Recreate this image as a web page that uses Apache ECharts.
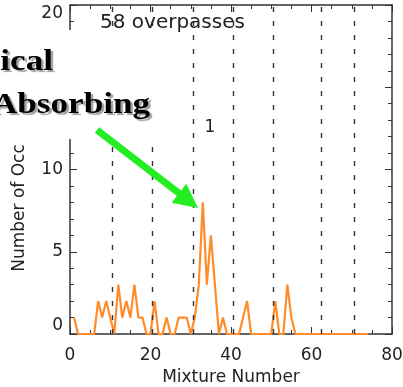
<!DOCTYPE html>
<html>
<head>
<meta charset="utf-8">
<script src="https://cdn.jsdelivr.net/npm/echarts@6/dist/echarts.min.js"></script>
<style>
  html, body { margin: 0; padding: 0; background: #fff; }
  #chart { width: 403px; height: 387px; }
</style>
</head>
<body>
<div id="chart"></div>
<script>
// mixture numbers and number of occurrences
const mixture = [1, 2, 3, 4, 5, 6, 7, 8, 9, 10, 11, 12, 13, 14, 15, 16, 17, 18, 19, 20,
  21, 22, 23, 24, 25, 26, 27, 28, 29, 30, 31, 32, 33, 34, 35, 36, 37, 38, 39, 40,
  41, 42, 43, 44, 45, 46, 47, 48, 49, 50, 51, 52, 53, 54, 55, 56, 57, 58, 59, 60,
  61, 62, 63, 64, 65, 66, 67, 68, 69, 70, 71, 72, 73, 74];
const occurrences = [1, 0, 0, 0, 0, 0, 2, 1, 2, 1, 0, 3, 1, 2, 1, 3, 1, 1, 0, 0,
  2, 0, 0, 1, 0, 0, 1, 1, 1, 0, 1, 3, 8, 3, 6, 3, 0, 1, 0, 0,
  0, 0, 1, 2, 0, 0, 0, 0, 0, 0, 2, 0, 0, 3, 1, 0, 0, 0, 0, 0,
  0, 0, 0, 0, 0, 0, 0, 0, 0, 0, 0, 0, 0, 0];
// dashed group boundaries
const groupBounds = [10.5, 20.5, 30.5, 40.5, 50.5, 62.5, 70.5];
const xTicks = [0, 20, 40, 60, 80];
const yTicks = [0, 5, 10, 15, 20];

const chart = echarts.init(document.getElementById("chart"));
const axisColor = "#333";
const font = "DejaVu Sans, Verdana, sans-serif";

// green arrow polygon (annotation)
function arrowPoints(tail, tip, headLen, headHalf, shaftHalf) {
  const dx = tip[0] - tail[0], dy = tip[1] - tail[1];
  const len = Math.sqrt(dx * dx + dy * dy);
  const ux = dx / len, uy = dy / len;
  const px = -uy, py = ux;
  const bx = tip[0] - ux * headLen, by = tip[1] - uy * headLen;
  return [
    [tail[0] + px * shaftHalf, tail[1] + py * shaftHalf],
    [bx + px * shaftHalf, by + py * shaftHalf],
    [bx + px * headHalf, by + py * headHalf],
    tip,
    [bx - px * headHalf, by - py * headHalf],
    [bx - px * shaftHalf, by - py * shaftHalf],
    [tail[0] - px * shaftHalf, tail[1] - py * shaftHalf],
  ];
}

// box-style axis: ticks pointing in, no grid lines
const boxAxis = (minorSplit) => ({
  type: "value",
  axisLine: { show: true, onZero: false, lineStyle: { color: axisColor, width: 1.5 } },
  axisTick: { show: true, inside: true, length: 7, lineStyle: { color: axisColor } },
  minorTick: { show: true, splitNumber: minorSplit, length: 4, lineStyle: { color: axisColor } },
  splitLine: { show: false },
  axisLabel: { show: false },
});

const labelStyle = { fontFamily: font, fontSize: 17, color: "#222" };

chart.setOption({
  animation: false,
  backgroundColor: "#fff",
  grid: { left: 70, right: 11, top: 5, bottom: 53, containLabel: false, outerBoundsMode: "none" },
  xAxis: [
    Object.assign(boxAxis(4), {
      min: xTicks[0],
      max: xTicks[xTicks.length - 1],
      interval: 20,
      position: "bottom",
      axisLabel: Object.assign({ show: true, margin: 13 }, labelStyle),
      name: "Mixture Number",
      nameLocation: "middle",
      nameGap: 35,
      nameTextStyle: labelStyle,
    }),
    Object.assign(boxAxis(4), {
      min: xTicks[0],
      max: xTicks[xTicks.length - 1],
      interval: 20,
      position: "top",
    }),
  ],
  yAxis: [
    Object.assign(boxAxis(5), {
      min: yTicks[0],
      max: yTicks[yTicks.length - 1],
      interval: 5,
      position: "left",
      axisLabel: Object.assign({
        show: true, margin: 7,
        verticalAlignMinLabel: "bottom", verticalAlignMaxLabel: "top",
      }, labelStyle),
    }),
    Object.assign(boxAxis(5), {
      min: yTicks[0],
      max: yTicks[yTicks.length - 1],
      interval: 5,
      position: "right",
    }),
  ],
  series: [
    {
      type: "line",
      data: mixture.map((m, i) => [m, occurrences[i]]),
      showSymbol: false,
      lineStyle: { color: "#ff8c2a", width: 2.2 },
      z: 3,
      markLine: {
        silent: true,
        symbol: "none",
        label: { show: false },
        lineStyle: { color: "#333", type: [5, 9], width: 1.4 },
        data: groupBounds.map((b) => ({ xAxis: b })),
      },
    },
  ],
  graphic: [
    { type: "text", z: 50, left: 100, top: 13,
      style: { text: "58 overpasses", font: "20px " + font, fill: "#222" } },
    { type: "text", z: 50, x: 210, y: 128,
      style: { text: "1", font: "17px " + font, fill: "#222", align: "center", verticalAlign: "middle" } },
    { type: "text", z: 50, x: 20, y: 208, rotation: Math.PI / 2,
      style: { text: "Number of Occ", font: "17px " + font, fill: "#222", align: "center", verticalAlign: "middle" } },
    // white overlay box from the slide
    { type: "rect", z: 100, shape: { x: 0, y: 30, width: 160, height: 109 }, style: { fill: "#fff" } },
    { type: "text", z: 101, x: 53, y: 62, scaleX: 1.17,
      style: {
        text: "ical", font: "bold 30px Liberation Serif, Times New Roman, serif", fill: "#000",
        align: "right", verticalAlign: "middle",
        textShadowColor: "rgba(120,120,120,0.7)", textShadowOffsetX: 2.5, textShadowOffsetY: 2.5, textShadowBlur: 1,
      } },
    { type: "text", z: 101, x: 150, y: 105, scaleX: 1.17,
      style: {
        text: "Absorbing", font: "bold 30px Liberation Serif, Times New Roman, serif", fill: "#000",
        align: "right", verticalAlign: "middle",
        textShadowColor: "rgba(120,120,120,0.7)", textShadowOffsetX: 2.5, textShadowOffsetY: 2.5, textShadowBlur: 1,
      } },
    { type: "polygon", z: 102,
      shape: { points: arrowPoints([97, 130], [198, 208], 24, 12, 3.5) },
      style: { fill: "#22ee22" } },
  ],
});
</script>
</body>
</html>
